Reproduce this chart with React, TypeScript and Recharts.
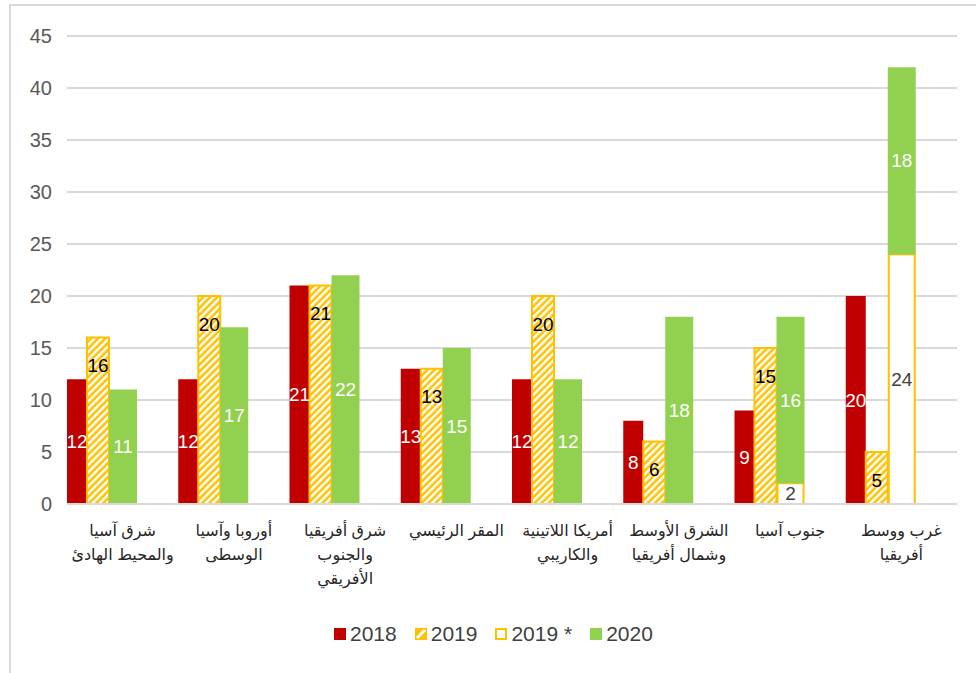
import React from 'react'
import { BarChart, Bar, XAxis, YAxis, CartesianGrid, LabelList } from 'recharts'

const categories = [
  'شرق آسيا\nوالمحيط الهادئ',
  'أوروبا وآسيا\nالوسطى',
  'شرق أفريقيا\nوالجنوب\nالأفريقي',
  'المقر الرئيسي',
  'أمريكا اللاتينية\nوالكاريبي',
  'الشرق الأوسط\nوشمال أفريقيا',
  'جنوب آسيا',
  'غرب ووسط\nأفريقيا',
]
const values2018 = [12, 12, 21, 13, 12, 8, 9, 20]
const values2019 = [16, 20, 21, 13, 20, 6, 15, 5]
const values2019star = [0, 0, 0, 0, 0, 0, 2, 24]
const values2020 = [11, 17, 22, 15, 12, 18, 16, 18]
const yTicks = [0, 5, 10, 15, 20, 25, 30, 35, 40, 45]
const seriesNames = ['2018', '2019', '2019 *', '2020']

const RED = '#C00000'
const ORANGE = '#FFC000'
const GREEN = '#92D050'
const FONT = "'Liberation Sans', Arial, 'DejaVu Sans', sans-serif"

// spacer is an empty series so the three bars sit at the left of each band
const data = categories.map((name, i) => ({
  name,
  y2018: values2018[i],
  y2019: values2019[i],
  y2019s: values2019star[i],
  y2020: values2020[i],
  spacer: 0,
}))

const CategoryTick = (props: any) => {
  const { x, y, payload } = props
  const lines = String(payload.value).split('\n')
  return (
    <g transform={`translate(${x},${y})`}>
      {lines.map((line, i) => (
        <text key={i} x={0} y={32 + i * 24} textAnchor="middle" fontSize={16} fill="#262626" fontFamily={FONT}>
          {line}
        </text>
      ))}
    </g>
  )
}

const centerLabel = (color: string) => (props: any) => {
  const { x, y, width, height, value } = props
  if (!value) return null
  return (
    <text x={x + width / 2} y={y + height / 2} textAnchor="middle" dominantBaseline="central" fontSize={19} fill={color} fontFamily={FONT}>
      {value}
    </text>
  )
}

const nearTopLabel = (props: any) => {
  const { x, y, width, value } = props
  return (
    <text x={x + width / 2} y={y + 28} textAnchor="middle" dominantBaseline="central" fontSize={19} fill="#000" fontFamily={FONT}>
      {value}
    </text>
  )
}

const OutlineBar = (props: any) => {
  const { x, y, width, height } = props
  if (!height || height <= 0) return null
  return <rect x={x + 1} y={y} width={width - 2} height={height} fill="#fff" stroke={ORANGE} strokeWidth={2} />
}

const swatch = (i: number) => {
  const base: React.CSSProperties = { width: 12, height: 12, boxSizing: 'border-box', marginRight: 4 }
  if (i === 0) return <div style={{ ...base, background: RED }} />
  if (i === 1)
    return (
      <svg width={12} height={12} style={{ marginRight: 4 }}>
        <rect width={12} height={12} fill={ORANGE} />
        <path d="M2 10 L10 2" stroke="#fff" strokeWidth={3} />
      </svg>
    )
  if (i === 2) return <div style={{ ...base, border: `2px solid ${ORANGE}`, background: '#fff' }} />
  return <div style={{ ...base, background: GREEN }} />
}

export default function App() {
  return (
    <div style={{ position: 'absolute', left: 0, top: 0, width: 976, height: 673, overflow: 'hidden', background: '#fff' }}>
      <div style={{ position: 'absolute', left: 9, top: 4, width: 1000, height: 667, border: '2px solid #d9d9d9' }} />
      <div style={{ position: 'absolute', left: 0, top: 0 }}>
        <BarChart width={976} height={673} data={data} margin={{ top: 36, right: 19, bottom: 0, left: 0 }} barGap={0}>
          <defs>
            <pattern id="hatch" patternUnits="userSpaceOnUse" width={5} height={5} patternTransform="rotate(45)">
              <rect width={5} height={5} fill={ORANGE} />
              <rect width={2.5} height={5} fill="#fff" />
            </pattern>
          </defs>
          <CartesianGrid vertical={false} stroke="#d9d9d9" strokeWidth={2} />
          <XAxis
            dataKey="name"
            interval={0}
            height={169}
            tickSize={0}
            tickMargin={0}
            tickLine={false}
            axisLine={{ stroke: '#d9d9d9', strokeWidth: 2 }}
            tick={<CategoryTick />}
          />
          <YAxis
            domain={[0, 45]}
            ticks={yTicks}
            width={67}
            axisLine={false}
            tickLine={false}
            tickSize={0}
            tickMargin={15}
            tick={{ fontSize: 20, fill: '#595959', fontFamily: FONT }}
          />
          <Bar dataKey="y2018" name={seriesNames[0]} stackId="a" fill={RED} barSize={20} isAnimationActive={false}>
            <LabelList dataKey="y2018" content={centerLabel('#fff')} />
          </Bar>
          <Bar dataKey="y2019" name={seriesNames[1]} stackId="b" fill="url(#hatch)" stroke={ORANGE} strokeWidth={2} barSize={22} isAnimationActive={false}>
            <LabelList dataKey="y2019" content={nearTopLabel} />
          </Bar>
          <Bar dataKey="y2019s" name={seriesNames[2]} stackId="s" barSize={28} shape={<OutlineBar />} isAnimationActive={false}>
            <LabelList dataKey="y2019s" content={centerLabel('#404040')} />
          </Bar>
          <Bar dataKey="y2020" name={seriesNames[3]} stackId="s" fill={GREEN} barSize={28} isAnimationActive={false}>
            <LabelList dataKey="y2020" content={centerLabel('#fff')} />
          </Bar>
          <Bar dataKey="spacer" stackId="z" fill="none" barSize={41} legendType="none" isAnimationActive={false} />
        </BarChart>
      </div>
      <div style={{ position: 'absolute', left: 334, top: 622, display: 'flex', alignItems: 'center', fontFamily: FONT, fontSize: 21, color: '#404040' }}>
        {seriesNames.map((s, i) => (
          <div key={s} style={{ display: 'flex', alignItems: 'center', marginRight: 18 }}>
            {swatch(i)}
            <span>{s}</span>
          </div>
        ))}
      </div>
    </div>
  )
}
